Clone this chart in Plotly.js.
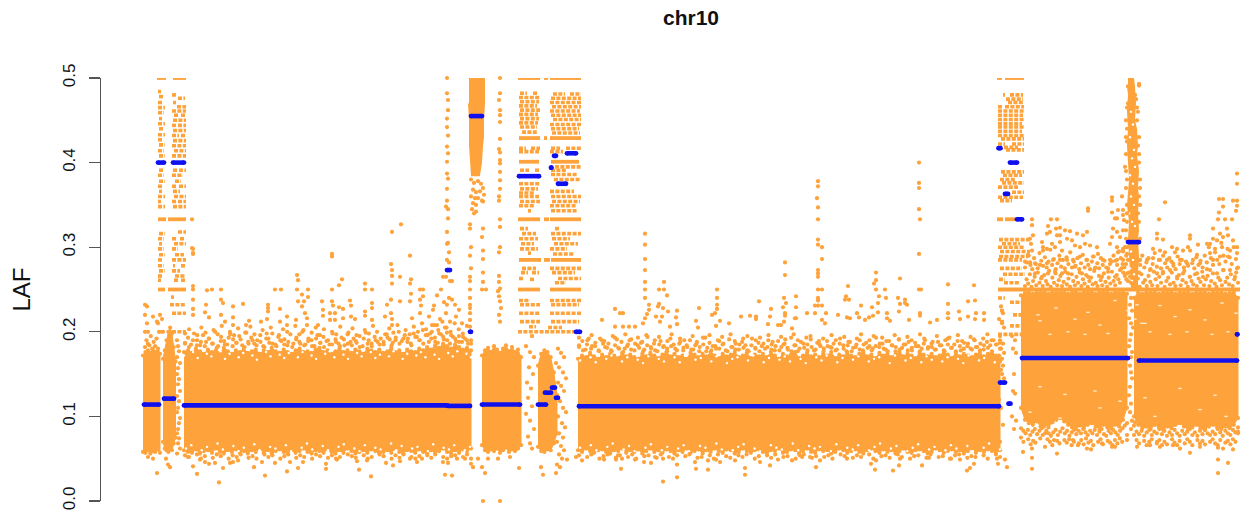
<!DOCTYPE html>
<html><head><meta charset="utf-8">
<script src="https://cdn.plot.ly/plotly-3.0.1.min.js"></script>
<style>html,body{margin:0;padding:0;background:#fff}#chart{width:1249px;height:516px}</style>
</head><body><div id="chart"></div>
<script>
// Values. x = position along chr10 (axis units), y = LAF.
const ORANGE = '#fea33b', BLUE = '#1010ee';
const tickVals = [0, 0.1, 0.2, 0.3, 0.4, 0.5];
const tickText = ['0.0', '0.1', '0.2', '0.3', '0.4', '0.5'];

// segment means: [x from, x to, LAF]
const segments = [
 [144,159,.114],[164,174,.121],[184,447,.113],[448,470,.1124],[482,520,.114],[538,546,.114],
 [545,551,.128],[552,555,.134],[556,558,.122],[579,999,.112],[471,482,.455],[519,539,.384],
 [551,551.5,.394],[554,556,.408],[558,566,.375],[567,576,.411],[447,450,.273],[470,471,.2],
 [576,580,.2],[158,164,.4],[173,184,.4],[998.5,1000.5,.417],[1010,1017,.4],[1005,1008,.363],
 [1017,1022,.333],[1000,1005,.14],[1008.5,1010.5,.115],[1022,1128,.169],[1139,1237,.166],[1237,1237.5,.197],
 [1128,1139,.306]
];

// dense body of each block: [x from, x to] with hand-read upper and lower edges
const bodyTop1 = [.172,.176,.178,.175,.179,.176,.177,.174];
const bodyBot1 = [.058,.057,.06,.056,.059,.058,.061,.057];
const bodyTop2 = [.168,.178,.19,.2,.205,.198,.182,.165];
const bodyBot2 = [.07,.062,.06,.058,.063,.06,.068,.075];
const bodyTop4 = [.176,.178,.175,.180,.177,.174,.179,.176,.178,.175,.181,.177,.174,.178,.176,.180,.175,.177,.179,.174,.178,.176,.181,.177,.175,.179,.176,.174,.178,.180,.176,.177,.175,.179,.181,.176,.178,.174,.177,.180,.176,.178,.175,.179,.177,.174,.180,.178,.176,.179,.175,.177,.181,.176,.178,.174,.179,.177,.176,.180,.178,.182,.179,.184,.181,.186,.183,.180,.185,.182,.179,.181,.178];
const bodyBot4 = [.06,.058,.057,.061,.056,.059,.06,.057,.062,.058,.056,.06,.058,.061,.057,.059,.056,.06,.058,.062,.057,.06,.056,.059,.061,.058,.056,.06,.057,.059,.062,.058,.056,.06,.059,.057,.061,.058,.056,.06,.057,.062,.059,.056,.058,.06,.057,.061,.059,.056,.058,.06,.057,.062,.058,.056,.06,.059,.057,.061,.058,.056,.06,.057,.059,.062,.058,.056,.06,.057,.061,.059,.062];
const bodyTop5 = [.172,.178,.181,.176,.183,.179,.175,.18,.184,.177,.182,.176,.179,.17];
const bodyBot5 = [.066,.06,.058,.061,.059,.062,.057,.06,.063,.058,.061,.059,.062,.066];
const bodyTop6 = [.16,.174,.178,.176,.17,.152,.125];
const bodyBot6 = [.064,.059,.058,.061,.06,.068,.08];
const bodyTop7 = [.168,.172,.17,.175,.171,.168,.173,.17,.174,.172,.169,.175,.171,.173,.17,.168,.174,.171,.175,.172,.169,.173,.176,.171,.174,.17,.172,.168,.175,.173,.17,.174,.171,.176,.172,.169,.174,.171,.173,.176,.17,.172,.175,.169,.173,.171,.174,.17,.176,.172,.168,.174,.171,.173,.176,.169,.172,.175,.171,.173,.17,.174,.172,.176,.169,.173,.171,.175,.172,.17,.174,.176,.171,.173,.169,.175,.172,.174,.17,.173,.176,.171,.174,.172,.169,.175,.173,.171,.174,.17,.172,.176,.173,.169,.175,.171,.174,.172,.17,.173,.175,.171,.174,.176,.172,.17];
const bodyBot7 = [.06,.058,.062,.059,.057,.06,.061,.058,.056,.06,.059,.062,.057,.06,.058,.061,.056,.059,.062,.058,.06,.057,.061,.059,.056,.06,.058,.062,.057,.059,.061,.056,.06,.058,.062,.059,.057,.061,.06,.056,.058,.062,.059,.057,.06,.061,.058,.056,.06,.059,.062,.057,.058,.061,.06,.056,.059,.062,.058,.057,.061,.059,.06,.056,.058,.062,.06,.057,.059,.061,.058,.056,.06,.062,.059,.057,.061,.058,.06,.056,.059,.062,.058,.057,.06,.061,.059,.056,.058,.062,.06,.057,.059,.061,.058,.06,.056,.059,.062,.057,.06,.058,.061,.059,.057,.06];
const bodyTop9 = [.243,.246,.2465,.245,.2465,.246,.2465,.245,.2465,.246,.2465,.2465,.245,.246,.2465,.245,.2465,.246,.2465,.245,.2465,.246,.2465,.245,.2465,.246,.2465,.245];
const bodyBot9 = [.11,.096,.092,.09,.094,.088,.091,.087,.093,.096,.098,.094,.09,.087,.085,.089,.086,.09,.092,.088,.085,.09,.087,.086,.09,.088,.096,.11];
const bodyTop10 = [.24,.2465,.245,.2465,.246,.2465,.245,.2465,.246,.2465,.245,.2465,.246,.2465,.245,.2465,.246,.2465,.245,.2465,.246,.2465,.245,.246,.2465,.24];
const bodyBot10 = [.1,.09,.086,.088,.085,.09,.087,.084,.088,.086,.09,.092,.088,.085,.087,.09,.086,.084,.088,.09,.087,.085,.088,.086,.09,.098];
const bodies = [
 [143,160,bodyTop1,bodyBot1],[163,175.5,bodyTop2,bodyBot2],[184,471,bodyTop4,bodyBot4],
 [482,521,bodyTop5,bodyBot5],[538,557,bodyTop6,bodyBot6],[578,1000,bodyTop7,bodyBot7],
 [1021,1127,bodyTop9,bodyBot9],[1134,1238,bodyTop10,bodyBot10]
];

// small gaps in the solid colour near the block edges
const notchTop4 = [.172,null,.176,.169,null,.174,.171,null,.177,.168,.174,null,.17,.175,null,.172,.167,null,.176,.171,null,.173,.169,.175,null,.17,.176,null,.172,.168,null,.174,.177,.17,null,.173,.168,null,.175,.171,null,.176,.169,.173,null,.171,.177,null,.168,.174,null,.172,.176,.17,null,.173,.168,null,.175,.171,.177,null,.174,.17];
const notchTop7 = [.166,null,.17,.164,null,.168,.172,null,.165,.17,null,.167,.163,.171,null,.168,.165,null,.17,.164,.172,null,.167,.169,null,.165,.171,null,.163,.168,.17,null,.166,.172,null,.164,.169,null,.167,.171,.165,null,.168,.163,null,.17,.166,.172,null,.164,.169,null,.167,.171,null,.165,.168,.17,null,.163,.172,null,.166,.169,null,.164,.171,.167,null,.165,.17,null,.168,.163,.172,null,.166,.169,null,.164,.171];
const notchBot4 = [.062,.066,null,.06,.064,null,.068,.061,null,.065,.059,.063,null,.067,.06,null,.064,.062,null,.066,.059,null,.063,.068,.061,null,.065,.06,null,.064,.067,null,.062,.059,.066,null,.063,.061,null,.068,.06,.065,null,.062,.064,null,.059,.067,null,.063,.061,.066,null,.06,.064];
const notchBot7 = [.063,null,.066,.06,null,.064,.068,null,.061,.065,.059,null,.063,.067,null,.06,.064,null,.062,.066,.059,null,.065,.063,null,.068,.061,null,.06,.064,.067,null,.062,.059,null,.066,.063,.061,null,.068,.06,null,.065,.062,.064,null,.059,.067,null,.063,.061,.066,null,.06,.064,.068,null,.062,.065,null,.059,.063,.067,null,.061,.064,null,.06,.066,.062,null,.065,.059,null,.063,.068,null,.061];
const notches = [[184,471,notchTop4],[580,1000,notchTop7],[186,470,notchBot4],[580,1000,notchBot7]];

// loose rows of points along the top and bottom edge of the big blocks
const rowTop4a = [.186,.182,.19,.184,.188,.183,.192,.186,.181,.189,.185,.193,.183,.187,.191,.182,.186,.19,.184,.188,.182,.192,.186,.183,.19,.185,.188,.182,.191,.186,.184,.189,.183,.192,.187,.182,.19,.185,.188,.183,.191,.186,.184,.189,.182,.192,.186,.183,.19,.185,.188,.193,.184,.19,.186,.192,.188,.184,.194,.19,.186,.196,.192,.188,.198,.194,.19,.196,.192,.188,.194,.19,.186];
const rowTop4b = [.198,.203,null,.196,.205,.199,null,.202,.197,.207,null,.2,.196,.204,null,.199,.206,.197,null,.202,.198,.205,null,.196,.203,.2,null,.207,.197,.202,null,.199,.205,.196,.203,null,.2,.197,.206,null,.199,.204,.196,null,.202,.198,.207,.2,null,.197,.204,.199,.208,null,.202,.197,.206,.2,.21,.203,.198,.208,.202,.212,.205,.2,.21,.203,.198,.207,.2];
const rowTop4c = [.187,.193,.185,.198,.19,.184,.196,.188,.192,.186,.2,.183,.194,.189,.185,.197,.191,.187,.195,.184,.199,.188,.193,.186,.19,.196,.183,.192,.187,.198,.185,.194,.189,.191,.184,.197,.186,.193,.188,.2,.185,.192,.19,.183,.196,.187,.194,.189,.185,.198,.191,.186,.193,.184,.197,.188,.192,.187,.195,.183,.199,.19,.186,.194,.188,.192,.185,.197,.191,.187,.193,.2,.189,.196,.192,.186,.198,.194,.19,.202,.196,.188,.2,.193,.187,.197,.191,.199,.186,.194,.189,.195,.188,.192,.186,.19];
const rowTop7a = [.182,.178,.185,.18,.183,.177,.186,.181,.178,.184,.18,.176,.183,.179,.186,.181,.177,.184,.18,.178,.185,.182,.177,.183,.18,.186,.178,.182,.179,.184,.177,.185,.181,.178,.183,.18,.186,.177,.182,.179,.185,.181,.178,.184,.18,.177,.186,.182,.179,.183,.178,.185,.181,.177,.184,.18,.186,.178,.182,.179,.185,.177,.183,.181,.178,.186,.18,.184,.177,.182,.179,.185,.181,.178,.183,.186,.18,.177,.184,.182,.179,.185,.178,.181,.183,.177,.186,.18,.182,.179,.184,.178,.185,.181,.177,.183,.18,.186,.179,.182,.178,.184,.181,.177,.185,.18];
const rowTop7b = [.193,null,.19,.196,null,.192,.189,null,.195,.191,null,.197,.19,null,.193,.188,.196,null,.19,.194,null,.189,.197,null,.192,.19,null,.195,.188,null,.193,.196,null,.19,.194,null,.197,.189,null,.192,.195,null,.19,.193,null,.196,.188,null,.194,.191,null,.197,.19,null,.193,.195,null,.189,.192,null,.196,.19,null,.194,.188,null,.192,.197,null,.19,.195,null,.193,.189,null,.196,.191,null,.194,.19,null,.197,.192,null,.188,.195,null,.19,.193,null,.196,.189,null,.194,.19,null,.192,.197,.19,null,.195];
const rowTop7c = [.184,.189,.179,.192,.183,.187,.178,.19,.182,.186,.177,.193,.181,.188,.18,.185,.191,.178,.184,.187,.179,.194,.182,.186,.177,.189,.183,.18,.192,.185,.178,.188,.181,.184,.19,.179,.186,.182,.193,.177,.187,.183,.18,.189,.185,.178,.191,.182,.186,.179,.188,.184,.177,.192,.181,.187,.183,.18,.19,.185,.178,.189,.182,.186,.179,.193,.184,.177,.188,.181,.185,.191,.178,.187,.183,.18,.189,.182,.186,.179,.192,.184,.177,.188,.181,.185,.19,.178,.187,.183,.18,.193,.182,.186,.179,.189,.184,.177,.191,.181,.185,.188,.178,.187,.183,.18,.19,.182,.186,.179,.188,.184,.177,.192,.181,.185,.189,.178,.187,.183,.18,.191,.182,.186,.179,.188,.184,.19,.185,.187];
const rowBot4 = [.054,.052,null,.055,.05,.053,null,.051,.055,.053,null,.05,.054,.052,.055,null,.051,.053,.05,null,.055,.052,.054,null,.05,.053,.055,null,.051,.054,.052,null,.05,.055,.053,null,.051,.054,.05,.052,null,.055,.053,.051,null,.054,.05,.052,null,.055,.053,null,.05,.054,.051,.055,null,.052,.05,.053,null,.054,.051,.055,null,.052,.05,.053,.054,null,.052,.055,.05];
const rowBot7 = [.054,null,.052,.055,null,.05,.053,.055,null,.051,.054,null,.052,.055,.05,null,.053,.054,null,.051,.055,null,.052,.05,.054,null,.053,.055,null,.051,.052,null,.054,.05,.055,null,.053,.051,null,.054,.052,.055,null,.05,.053,null,.054,.051,.055,null,.052,.053,null,.05,.054,.055,null,.051,.053,null,.052,.054,.05,null,.055,.053,null,.051,.054,.052,null,.055,.05,null,.053,.054,.051,null,.055,.052,null,.05,.053,.054,null,.051,.055,null,.052,.053,null,.05,.054,.055,null,.051,.053,.052,null,.054,.05,null,.055,.052];
const rowBot9a = [.086,.083,.08,.084,.078,.082,.085,.079,.083,.086,.088,.083,.08,.077,.081,.084,.078,.082,.086,.08,.083,.077,.081,.084,.079,.083,.08,.085,.081,.078,.083,.08,.084,.078,.082,.085,.079,.077,.083,.08,.084,.081,.078,.083,.086,.089,.092];
const rowBot9b = [.075,.07,null,.073,.067,.071,.069,null,.074,.078,.08,.073,.07,.066,null,.071,.068,null,.072,.069,.073,.066,.07,null,.068,.072,.067,.074,.069,.071,.066,null,.07,.073,.067,null,.071,.069,.066,.072,.068,.074,.07,null,.078];
const rowBot10a = [.089,.082,.079,.083,.077,.081,.084,.078,.082,.08,.085,.079,.083,.077,.081,.078,.084,.08,.077,.083,.079,.082,.085,.078,.081,.077,.083,.079,.084,.08,.078,.082,.079,.085,.081,.077,.083,.08,.078,.084,.081,.087];
const rowBot10b = [.078,.072,.068,null,.071,.066,.07,.073,null,.068,.072,.066,.07,.067,null,.073,.069,.066,.071,null,.068,.073,.07,.066,null,.072,.068,.071,.067,null,.07,.073,.068,.066,.072,null,.069,.071,.067,.073,.07,.08];
const rowUp9a = [.254,.262,.257,.268,.253,.26,.265,.255,.27,.258,.263,.254,.267,.26,.256,.272,.253,.264,.258,.269,.255,.261,.266,.254,.259,.271,.256,.263,.253,.268,.26,.255,.265,.258,.27,.254,.262,.257,.267,.253,.26,.264,.256,.272,.258,.254,.266,.261,.255,.269,.259,.253,.264,.257,.271,.26,.255,.267,.262,.258,.275,.27,.266,.262,.26];
const rowUp9b = [.276,.282,.29,.279,.274,.287,.28,.275,.293,.284,.278,.288,.276,.283,.297,.279,.286,.274,.281,.29,.277,.285,.275,.288,.28,.294,.276,.283,.278,.287,.274,.281,.291,.276,.285,.279,.274,.283,.289,.276,.281,.275,.287,.279,.284,.276,.275,.28,.283,.29,.284,.279,.295,.287,.28,.276,.29,.285];
const rowUp10a = [.256,.263,.253,.268,.258,.261,.254,.266,.259,.255,.271,.262,.254,.265,.258,.269,.253,.26,.264,.256,.27,.258,.254,.263,.267,.255,.261,.272,.258,.253,.265,.26,.256,.268,.254,.263,.259,.271,.255,.262,.266,.254,.26,.269,.257,.253,.264,.261,.255,.273,.259,.264,.256,.268,.254,.262,.27,.258];
const rowUp10b = [.275,.284,.279,.29,.276,.282,.287,.274,.28,.293,.277,.285,.275,.29,.281,.276,.287,.283,.278,.274,.289,.28,.285,.276,.283,.278,.296,.281,.275,.288,.279,.284,.276,.29,.282,.3,.287,.279,.294,.285,.28,.305,.29,.283,.298,.288,.28,.3,.286,.276];
const rowBlock1 = [.182,.19,.186,.184,.195,.18,.188,.183,.192,.18];
const loosePoints = [
 [185,471,rowTop4a],[185,471,rowTop4b],[185,471,rowTop4c],[579,1000,rowTop7a],[579,1000,rowTop7b],[579,1000,rowTop7c],
 [185,471,rowBot4],[579,1000,rowBot7],[1021,1127,rowBot9a],[1021,1127,rowBot9b],
 [1134,1238,rowBot10a],[1134,1238,rowBot10b],[1025,1128,rowUp9a],[1025,1128,rowUp9b],[1136,1238,rowUp10a],[1136,1238,rowUp10b],
 [145,158,rowBlock1]
];

// individually read outliers above and below the main blocks
const pointsLeft = [[145,.232],[147,.23],[145,.22],[153,.218],[157,.212],[147,.21],[145,.2],[148,.2],[159,.2],[163,.2],[193,.298],[193,.292],[193,.254],[193,.25],[193,.238],[193,.227],[193,.22],[207,.249],[212,.25],[221,.25],[221,.238],[223,.234],[206,.232],[205,.223],[209,.217],[221,.22],[225,.212],[233,.23],[233,.217],[233,.208],[243,.233],[249,.213],[246,.208],[261,.212],[267,.215],[268,.232],[268,.228],[268,.224],[275,.25],[281,.25],[280,.227],[280,.212],[287,.218],[287,.208],[297,.267],[298,.261],[297,.25],[302,.244],[308,.25],[308,.241],[298,.236],[304,.236],[302,.23],[305,.222],[307,.216],[307,.208],[296,.214],[322,.236],[323,.226],[323,.219],[318,.208],[332,.292],[332,.289],[332,.25],[339,.255],[342,.262],[332,.236],[333,.231],[330,.222],[335,.222],[339,.229],[343,.227],[330,.214],[335,.214],[350,.237],[351,.231],[343,.216],[351,.218],[355,.215],[365,.257],[365,.25],[372,.25],[372,.234],[372,.228],[365,.224],[365,.219],[372,.214],[387,.232],[385,.218],[392,.318],[401,.327],[410,.29],[391,.28],[392,.273],[392,.266],[392,.257],[391,.238],[400,.265],[411,.262],[410,.257],[411,.245],[410,.236],[400,.236],[391,.222],[392,.215],[392,.208],[420,.25],[423,.25],[423,.242],[420,.238],[421,.231],[412,.216],[420,.222],[429,.218],[434,.231],[433,.226],[432,.208],[437,.243],[441,.25],[444,.235],[452,.238],[455,.232],[440,.215],[446,.222],[450,.212],[456,.218],[462,.21],[459,.226],[445,.205],[437,.208]];
const pointsMiddle = [[645,.316],[645,.303],[645,.286],[645,.273],[645,.259],[645,.25],[645,.24],[649,.232],[649,.226],[647,.221],[645,.216],[643,.21],[664,.259],[659,.25],[664,.25],[667,.243],[659,.233],[658,.23],[668,.224],[663,.228],[656,.218],[662,.218],[660,.212],[677,.225],[676,.217],[677,.209],[670,.206],[699,.228],[696,.213],[698,.205],[717,.25],[717,.24],[717,.232],[717,.227],[715,.222],[712,.22],[720,.213],[716,.207],[729,.21],[741,.218],[750,.219],[756,.218],[756,.215],[759,.236],[771,.227],[770,.218],[768,.209],[785,.282],[785,.267],[784,.24],[786,.234],[783,.229],[785,.222],[785,.219],[784,.212],[796,.242],[796,.229],[795,.216],[792,.204],[781,.208],[778,.208],[615,.227],[620,.222],[623,.222],[602,.214],[615,.206],[623,.206],[629,.206],[635,.206],
 [818,.378],[818,.372],[817,.358],[818,.347],[818,.333],[818,.309],[818,.303],[822,.3],[822,.286],[818,.273],[818,.269],[818,.265],[818,.25],[822,.25],[818,.24],[818,.237],[815,.231],[822,.231],[818,.231],[796,.216],[807,.222],[815,.222],[826,.222],[822,.214],[825,.21],[848,.254],[846,.242],[845,.238],[849,.238],[838,.22],[847,.217],[850,.216],[861,.231],[857,.222],[859,.217],[876,.27],[876,.261],[874,.257],[876,.25],[885,.25],[879,.242],[886,.24],[872,.229],[878,.234],[878,.223],[873,.219],[869,.217],[865,.214],[887,.222],[887,.216],[900,.263],[898,.24],[900,.233],[899,.224],[905,.238],[907,.232],[905,.234],[919,.4],[919,.376],[919,.37],[919,.345],[920,.333],[919,.292],[919,.25],[921,.25],[920,.222],[920,.219],[948,.256],[948,.233],[948,.222],[948,.216],[959,.224],[960,.215],[968,.236],[975,.237],[974,.255],[976,.222],[975,.215],[968,.218],[984,.222],[984,.214],[937,.214],[930,.211],[890,.213],[909,.214]];
const pointsLow = [[188,.052],[193,.041],[197,.032],[200,.049],[205,.046],[209,.044],[215,.045],[219,.022],[223,.039],[230,.045],[233,.046],[238,.048],[254,.04],[262,.046],[265,.03],[275,.045],[287,.035],[290,.046],[298,.039],[303,.046],[326,.044],[326,.038],[337,.049],[357,.047],[359,.037],[367,.048],[371,.029],[386,.045],[393,.042],[400,.047],[410,.05],[417,.046],[422,.05],[445,.031],[443,.046],[457,.05],[471,.044],
 [582,.048],[604,.049],[616,.049],[622,.05],[621,.038],[618,.054],[635,.049],[644,.046],[651,.045],[655,.052],[663,.05],[663,.023],[677,.028],[677,.043],[695,.046],[696,.038],[708,.037],[708,.048],[716,.049],[720,.046],[735,.048],[745,.039],[745,.031],[760,.046],[770,.042],[778,.049],[792,.048],[802,.052],[816,.04],[820,.048],[810,.052],[847,.05],[871,.044],[875,.037],[876,.048],[893,.036],[899,.042],[900,.05],[922,.042],[929,.051],[950,.05],[967,.036],[970,.039],[974,.044],[960,.049],[997,.05],[998,.044],[1007,.04],[1005,.049],
 [1023,.058],[1032,.062],[1032,.051],[1032,.038],[1045,.064],[1054,.072],[1057,.056],[1073,.072],[1078,.066],[1087,.062],[1091,.061],[1102,.068],[1112,.064],[1115,.064],[1127,.072],[1137,.064],[1135,.093],[1150,.066],[1157,.07],[1160,.064],[1173,.066],[1180,.062],[1190,.057],[1200,.064],[1218,.063],[1218,.049],[1218,.033],[1228,.045],[1223,.062],[1233,.061],[1238,.082],
 [482,.04],[485,.033],[483,.0],[500,.0],[478,.05],[488,.05],[498,.05],[510,.052],[519,.039],[452,.03],[448,.045],[465,.05],[473,.04],[541,.04],[543,.031],[556,.033],[557,.043],[567,.049],[576,.052],[148,.052],[153,.05],[157,.033],[166,.05],[168,.043],[170,.04]];
const pointsRight = [[1032,.333],[1032,.326],[1033,.314],[1030,.31],[1031,.304],[1032,.296],[1028,.291],[1025,.283],[1030,.282],[1035,.281],[1042,.306],[1043,.3],[1048,.325],[1051,.333],[1057,.333],[1056,.322],[1060,.323],[1057,.314],[1060,.314],[1047,.316],[1050,.318],[1043,.296],[1047,.298],[1052,.304],[1055,.3],[1060,.306],[1065,.32],[1070,.319],[1062,.296],[1067,.31],[1072,.308],[1077,.316],[1083,.314],[1087,.318],[1088,.346],[1088,.343],[1075,.302],[1080,.3],[1085,.304],[1090,.302],[1097,.3],[1098,.292],[1093,.289],[1087,.285],[1080,.289],[1073,.285],[1067,.285],[1060,.285],[1053,.285],[1047,.281],[1040,.279],[1035,.269],[1042,.265],[1048,.269],[1055,.271],[1062,.269],[1068,.269],[1075,.277],[1082,.269],[1088,.265],[1095,.275],[1102,.265],[1108,.271],[1115,.265],[1112,.359],[1112,.355],[1122,.36],[1112,.341],[1118,.344],[1123,.344],[1115,.334],[1117,.334],[1123,.338],[1124,.332],[1113,.322],[1117,.318],[1112,.312],[1110,.304],[1120,.312],[1123,.32],[1117,.3],[1118,.294],[1123,.298],[1127,.292],[1103,.285],[1110,.285],[1117,.285],[1123,.285],[1120,.273],[1127,.269],
 [1159,.333],[1165,.353],[1157,.316],[1157,.31],[1163,.309],[1153,.298],[1160,.296],[1165,.294],[1172,.3],[1177,.298],[1175,.294],[1183,.296],[1190,.314],[1190,.31],[1198,.303],[1188,.3],[1197,.291],[1207,.304],[1213,.322],[1219,.357],[1223,.357],[1223,.348],[1219,.341],[1218,.333],[1225,.333],[1233,.355],[1237,.355],[1237,.387],[1237,.375],[1237,.349],[1236,.343],[1232,.333],[1227,.322],[1220,.316],[1213,.31],[1210,.304],[1217,.308],[1223,.312],[1228,.314],[1233,.308],[1237,.3],[1237,.293],[1230,.296],[1222,.3],[1215,.298],[1210,.293],[1220,.289],[1228,.289],[1213,.285],[1207,.274],[1200,.281],[1193,.285],[1187,.281],[1180,.285],[1173,.281],[1167,.285],[1160,.285],[1153,.287],[1147,.285],[1140,.285],[1150,.273],[1157,.269],[1163,.271],[1170,.273],[1177,.265],[1183,.269],[1190,.265],[1197,.269],[1203,.265],[1210,.273],[1217,.269],[1223,.273],[1230,.273],[1237,.275],[1235,.265]];

// thin sparse columns
const columnsX = [447,447,448,448,447,447,448,447,448,447,447,448,447,447,446,448,447,447,449,447,448,448,449,446,443,450,452,449,447,
 500,500,499,500,500,500,500,499,500,500,500,500,500,500,499,499,500,500,500,499,499,499,500,498,499,500,501,499,500,
 483,482,483,483,483,483,482,486,
 470,470,471,470,471,470,470,470,470,470,470,470,470,470,470,
 192,193,192,
 471,474,478,481,483,473,476,480,484,471,475,478,482,473,476,483,472,474,476];
const columnsY = [.5,.482,.474,.462,.452,.442,.432,.419,.411,.401,.387,.381,.369,.355,.348,.334,.318,.304,.294,.285,.305,.345,.282,.265,.265,.26,.26,.24,.232,
 .5,.482,.474,.462,.456,.448,.428,.416,.412,.403,.399,.389,.379,.369,.36,.355,.333,.324,.3,.294,.266,.259,.251,.248,.242,.236,.228,.22,.212,
 .322,.312,.296,.286,.27,.259,.25,.25,
 .327,.322,.3,.29,.275,.265,.26,.25,.24,.232,.228,.222,.214,.206,.2,
 .299,.293,.333,
 .38,.376,.378,.375,.37,.368,.365,.366,.362,.36,.358,.358,.355,.352,.35,.354,.345,.34,.342];
const fineColX = [158,160,162,177,178,179,177,180,178,177,179,178,180,177,179,178,177,180,179,178,177,179,178,180,177,
 526,530,534,529,533,527,531,528,532,526,530,534,528,530,532,
 558,561,564,556,559,563,566,558,561,564,557,560,563,566,558,562,565,559,563,557,561,564,559,562,560,
 1012,1015,1013,1016,1014,1013,1015,1012,1016,1014,1001,1003,999,1002,1004,1000,1003,1001,1004,999,1002,1000,1003,1001,1002,1004,999,1001,1003,1000];
const fineColY = [.21,.22,.215,.19,.183,.177,.17,.163,.157,.15,.144,.138,.13,.124,.118,.11,.105,.098,.092,.085,.08,.074,.068,.062,.056,
 .183,.176,.17,.158,.15,.14,.133,.122,.112,.103,.095,.085,.076,.068,.062,
 .18,.175,.17,.163,.158,.152,.145,.14,.136,.13,.125,.118,.11,.105,.1,.092,.087,.08,.075,.07,.065,.06,.055,.05,.04,
 .195,.19,.18,.175,.15,.13,.127,.1,.095,.085,.23,.222,.215,.21,.205,.19,.186,.18,.175,.172,.168,.165,.16,.155,.15,.145,.12,.11,.09,.07];

// tall, nearly solid columns: [x, LAF] outline
const towerAX = [469,484,484,483,483,482,481,480,479,472,471,470,470,469];
const towerAY = [.5,.5,.47,.45,.43,.42,.4,.39,.385,.385,.4,.42,.45,.47];
const towerBX = [1128,1133,1134,1135,1134,1136,1137,1136,1138,1137,1138,1137,1138,1137,1138,1137,1137,1132,1131,1130,1129,1130,1128,1130,1129,1128,1129,1128,1129,1128];
const towerBY = [.5,.5,.49,.47,.45,.44,.42,.41,.39,.37,.36,.34,.32,.31,.29,.27,.25,.25,.27,.29,.31,.33,.35,.38,.4,.42,.44,.46,.48,.49];
const towerSpotsX = [1139,1139,1135,1138,1139,1127,1126,1126,1127,1126,1139,1140,1140,1127,1127,1126,1139,1140,1127,1123,1126,1139,1130,1131,1129,1139,1128,1136,1137,1137,1138,1139,1127,1126,1127,1125,1126,1140,1139,1138,1128,1127,1126,1125];
const towerSpotsY = [.493,.491,.48,.46,.43,.44,.43,.41,.38,.37,.4,.37,.35,.35,.33,.32,.33,.31,.3,.295,.28,.285,.265,.258,.27,.27,.49,.475,.465,.45,.42,.41,.465,.45,.425,.395,.39,.38,.36,.34,.47,.34,.31,.3];
const towerHolesX = [1131,1133,1130,1134,1132,1135,1130,1133,1131,1134,1129,1132,1135,1131,1133,1130,1134,1132];
const towerHolesY = [.46,.445,.43,.415,.405,.395,.385,.375,.36,.35,.34,.33,.325,.295,.285,.275,.268,.26];
const gapInColumnX = [1131,1130,1132,1129,1131,1133,1131,1130,1129,1132,1131,1130,1131,1132,1130,1129,1131,1130,1132,1131];
const gapInColumnY = [.24,.232,.225,.216,.21,.205,.197,.19,.183,.176,.17,.16,.152,.145,.135,.125,.115,.105,.095,.085];

// discrete allele-fraction levels, full rows: [LAF, x from, x to]
const levelsFull = [
 [.5,157,166],[.5,173,186],[.333,158,166],[.333,168,186],[.25,158,165],[.25,168,186],
 [.5,518,540],[.5,544,548],[.5,550,581],[.429,519,540],[.429,544,547],[.429,550,581],[.401,519,539],[.401,551,579],[.333,518,540],[.333,544,549],[.333,550,581],[.285,519,541],[.285,544,550],[.285,551,581],[.25,518,540],[.25,550,581],
 [.5,997,1002],[.5,1005,1024],[.333,997,1003],[.333,1005,1015],[.25,998,1240]
];
// the same, broken rows of separate points
const levelsBroken = [
 [.2,158,164],[.2,172,186],[.2,518,581],[.197,998,1021],
 [.484,158,161],[.478,159,163],[.471,158,163],[.465,158,165],[.459,158,164],[.452,159,162],[.446,158,165],[.44,159,164],[.433,158,165],[.427,158,163],[.421,159,165],[.414,158,164],[.408,159,165],[.391,159,163],[.385,158,164],[.378,159,165],[.372,158,163],[.366,159,162],[.36,158,165],[.354,158,161],[.348,158,165],
 [.48,172,176],[.476,178,185],[.471,173,176],[.466,177,186],[.461,172,186],[.456,174,179],[.456,181,186],[.45,173,186],[.444,172,176],[.444,178,186],[.438,173,186],[.432,172,179],[.432,181,186],[.426,173,186],[.42,172,186],[.414,174,186],[.408,172,186],[.391,173,177],[.391,179,186],[.385,172,183],[.378,175,181],[.372,172,177],[.372,179,186],[.366,173,180],[.36,174,186],[.354,172,176],[.354,178,186],[.348,173,186],
 [.316,159,165],[.31,158,164],[.304,159,162],[.298,158,164],[.291,159,165],[.285,158,162],[.278,158,164],[.272,159,165],[.266,158,163],[.261,158,161],
 [.318,178,186],[.31,172,176],[.31,180,185],[.304,174,186],[.298,172,178],[.291,175,184],[.285,172,186],[.278,173,175],[.278,181,186],[.272,172,180],[.266,175,185],[.261,174,178],[.261,181,186],[.232,170,186],[.222,172,186],[.241,171,174],
 [.482,520,527],[.482,533,538],[.477,519,540],[.472,520,539],[.467,519,537],[.462,520,540],[.457,519,538],[.452,520,539],[.447,519,538],[.442,520,537],[.436,522,538],[.417,519,526],[.417,531,540],[.413,519,539],[.391,520,529],[.391,535,539],[.375,519,540],[.369,520,538],[.364,519,535],[.36,519,539],[.354,520,540],[.349,519,534],[.343,528,531],
 [.316,522,536],[.322,520,528],[.31,519,538],[.304,521,534],[.298,520,538],[.293,528,531],[.275,522,536],[.27,521,528],[.27,532,539],[.263,519,524],[.262,530,534],[.237,519,530],[.232,520,540],[.222,519,540],[.212,520,540],[.206,529,536],[.195,530,535],
 [.481,553,565],[.481,570,581],[.476,551,581],[.471,550,581],[.466,552,581],[.461,550,580],[.456,551,581],[.451,553,581],[.445,550,581],[.44,551,579],[.435,552,580],[.417,551,560],[.417,566,581],[.413,550,563],[.395,555,581],[.391,551,566],[.386,551,578],[.38,554,581],[.366,550,574],[.36,551,581],[.354,552,580],[.349,550,576],[.343,551,578],
 [.322,555,560],[.316,551,581],[.31,552,570],[.304,554,578],[.298,550,567],[.292,553,574],[.275,550,581],[.27,552,575],[.263,558,581],[.258,555,566],[.237,550,581],[.232,551,579],[.222,550,581],[.212,551,579],[.205,548,562],
 [.48,1003,1005],[.48,1010,1023],[.475,1006,1023],[.471,1008,1024],[.466,998,1002],[.466,1005,1024],[.461,998,1024],[.456,998,1023],[.451,998,1024],[.446,998,1022],[.442,998,1024],[.437,998,1022],[.432,998,1024],[.428,1001,1024],[.422,998,1005],[.422,1012,1024],[.418,1004,1018],[.415,1006,1024],[.389,1001,1024],[.385,1003,1022],[.38,1000,1015],[.376,1002,1024],[.371,998,1018],[.365,1012,1024],[.359,998,1023],[.355,1000,1012],
 [.309,999,1030],[.304,1002,1020],[.3,998,1025],[.295,1000,1030],[.289,999,1028],[.285,998,1022],[.275,1000,1022],[.268,1003,1025],[.262,999,1005],[.258,1004,1020],[.24,998,1005],[.235,1010,1022],[.225,1000,1004],[.22,1013,1022],[.212,1000,1004],[.207,1010,1021]
];

// thin pale gaps seen inside the right-hand blocks
const gapX = [1038,1040,1056,1075,1088,1100,1115,1128,1135,1145,1160,1175,1190,1205,1222,1236,1050,1068,1085,1108,1150,1170,1187,1212,1228,1040,1065,1095,1120,1145,1180,1215,1030,1060,1100,1155,1200,1226,1137,1142];
const gapY = [.22,.213,.228,.215,.223,.208,.237,.225,.215,.21,.231,.218,.226,.214,.234,.222,.197,.2,.197,.198,.2,.197,.2,.197,.2,.135,.126,.13,.118,.122,.133,.125,.105,.098,.11,.1,.108,.1,.232,.21];

// ---- build traces ----
const evenSteps = (x0, x1, n) => Array.from({length: n}, (_, i) => x0 + i * (x1 - x0) / (n - 1));
const dot = 4.2;
const traces = [];
bodies.forEach(([x0, x1, top, bot]) => {
  const xt = evenSteps(x0, x1, top.length), xb = evenSteps(x0, x1, bot.length);
  traces.push({x: xt.concat(xb.slice().reverse()), y: top.concat(bot.slice().reverse()),
    mode: 'lines+markers', fill: 'toself', fillcolor: ORANGE, line: {color: ORANGE, width: 1},
    marker: {color: ORANGE, size: dot}, hoverinfo: 'skip', cliponaxis: false});
});
[[towerAX, towerAY], [towerBX, towerBY]].forEach(([x, y]) => traces.push({x, y, mode: 'lines', fill: 'toself',
  fillcolor: ORANGE, line: {color: ORANGE, width: 2}, hoverinfo: 'skip', cliponaxis: false}));
const speck = (x, y, size) => traces.push({x, y, mode: 'markers', marker: {color: '#fff', size}, hoverinfo: 'skip'});
notches.forEach(([x0, x1, row]) => speck(evenSteps(x0, x1, row.length), row, 2.4));
speck(towerHolesX, towerHolesY, 2.4);
const spot = (x, y) => traces.push({x, y, mode: 'markers', marker: {color: ORANGE, size: dot}, hoverinfo: 'skip', cliponaxis: false});
loosePoints.forEach(([x0, x1, row]) => spot(evenSteps(x0, x1, row.length), row));
[pointsLeft, pointsMiddle, pointsLow, pointsRight].forEach(list => spot(list.map(p => p[0]), list.map(p => p[1])));
spot(columnsX, columnsY); spot(fineColX, fineColY); spot(towerSpotsX, towerSpotsY); spot(gapInColumnX, gapInColumnY);
const addLevels = (rows, width, dash) => {
  const lx = [], ly = [];
  rows.forEach(([v, a, b]) => { lx.push(a, b, null); ly.push(v, v, null); });
  traces.push({x: lx, y: ly, mode: 'lines', line: {color: ORANGE, width, dash}, hoverinfo: 'skip', cliponaxis: false, connectgaps: false});
};
addLevels(levelsFull, 3.8, 'solid');
addLevels(levelsBroken, 3.6, '4px,1.4px');
traces.push({x: gapX, y: gapY, mode: 'markers', marker: {color: '#ffe9cc', size: 2.4, symbol: 'line-ew', line: {color: '#ffe9cc', width: 1.4}}, hoverinfo: 'skip'});
const sx = [], sy = [];
segments.forEach(([a, b, v]) => { sx.push(a, b, null); sy.push(v, v, null); });
traces.push({x: sx, y: sy, mode: 'lines+markers', line: {color: BLUE, width: 4.6}, marker: {color: BLUE, size: 4.8}, hoverinfo: 'skip', cliponaxis: false, connectgaps: false});

const layout = {
  width: 1249, height: 516, showlegend: false, paper_bgcolor: '#fff', plot_bgcolor: '#fff',
  font: {family: '"Liberation Sans", Arial, sans-serif', color: '#111'},
  margin: {l: 101, r: 0, t: 78, b: 15, pad: 0},
  title: {text: '<b>chr10</b>', x: 691 / 1249, xanchor: 'center', y: 1 - 18 / 516, yanchor: 'middle', font: {size: 21, color: '#111'}},
  xaxis: {range: [101, 1249], visible: false, fixedrange: true},
  yaxis: {range: [0, 0.5], tickvals: tickVals, ticktext: tickText, tickangle: -90, ticks: 'outside', ticklen: 11,
    tickwidth: 1.3, tickcolor: '#555', showline: true, linecolor: '#555', linewidth: 1.3, showgrid: false, zeroline: false,
    tickfont: {size: 17, color: '#111'}, ticklabelstandoff: 7, fixedrange: true,
    title: {text: 'LAF', font: {size: 24, color: '#111'}, standoff: 22}}
};
Plotly.newPlot('chart', traces, layout, {displayModeBar: false, staticPlot: true});
</script></body></html>
